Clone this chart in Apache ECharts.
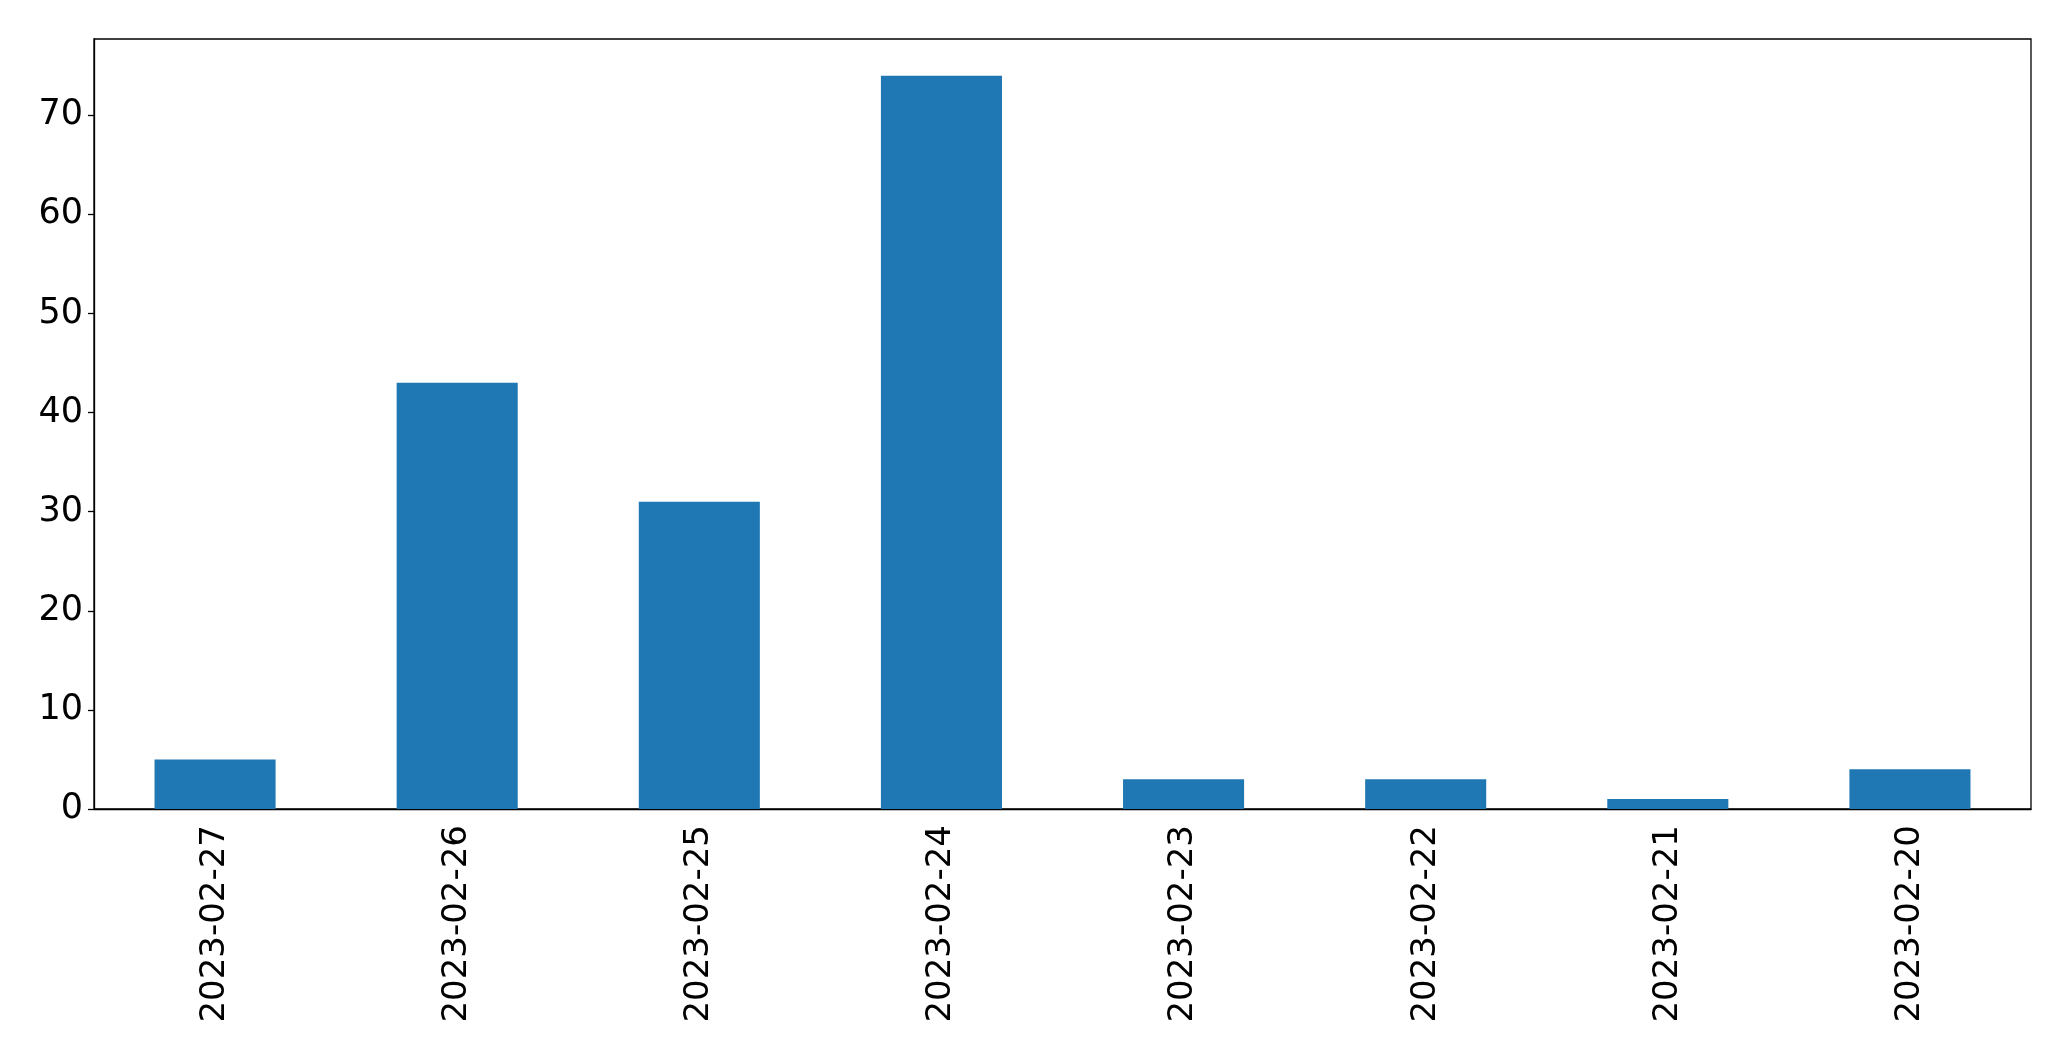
<!DOCTYPE html>
<html>
<head>
<meta charset="utf-8">
<script src="https://cdn.jsdelivr.net/npm/echarts@6/dist/echarts.min.js"></script>
<style>html,body{margin:0;padding:0;background:#fff;}#c{width:2071px;height:1061px;}</style>
</head>
<body>
<div id="c"></div>
<script>
const categories = ["2023-02-27","2023-02-26","2023-02-25","2023-02-24","2023-02-23","2023-02-22","2023-02-21","2023-02-20"];
const values = [5, 43, 31, 74, 3, 3, 1, 4];
const yTicks = [0, 10, 20, 30, 40, 50, 60, 70];

const chart = echarts.init(document.getElementById('c'), null, {renderer: 'canvas'});
const font = 'DejaVu Sans';
chart.setOption({
  animation: false,
  backgroundColor: '#fff',
  grid: {left: 94, right: 40, top: 39, bottom: 252, show: true, borderColor: '#000', borderWidth: 1.3, backgroundColor: 'transparent'},
  xAxis: {
    type: 'category',
    data: categories,
    boundaryGap: true,
    axisLine: {lineStyle: {color: '#000', width: 1.3}},
    axisTick: {alignWithLabel: true, length: 6, lineStyle: {color: '#000', width: 1.3}},
    axisLabel: {rotate: 90, color: '#000', fontFamily: font, fontSize: 34, margin: 16, interval: 0}
  },
  yAxis: {
    type: 'value',
    min: 0,
    max: 77.7,
    interval: 10,
    splitLine: {show: false},
    axisLine: {show: true, lineStyle: {color: '#000', width: 1.3}},
    axisTick: {show: true, length: 6, lineStyle: {color: '#000', width: 1.3}},
    axisLabel: {color: '#000', fontFamily: font, fontSize: 35, margin: 11, showMaxLabel: false,
      formatter: v => yTicks.includes(v) ? String(v) : ''}
  },
  series: [{
    type: 'bar',
    data: values,
    barWidth: '50%',
    itemStyle: {color: '#1f77b4'}
  }]
});
</script>
</body>
</html>
